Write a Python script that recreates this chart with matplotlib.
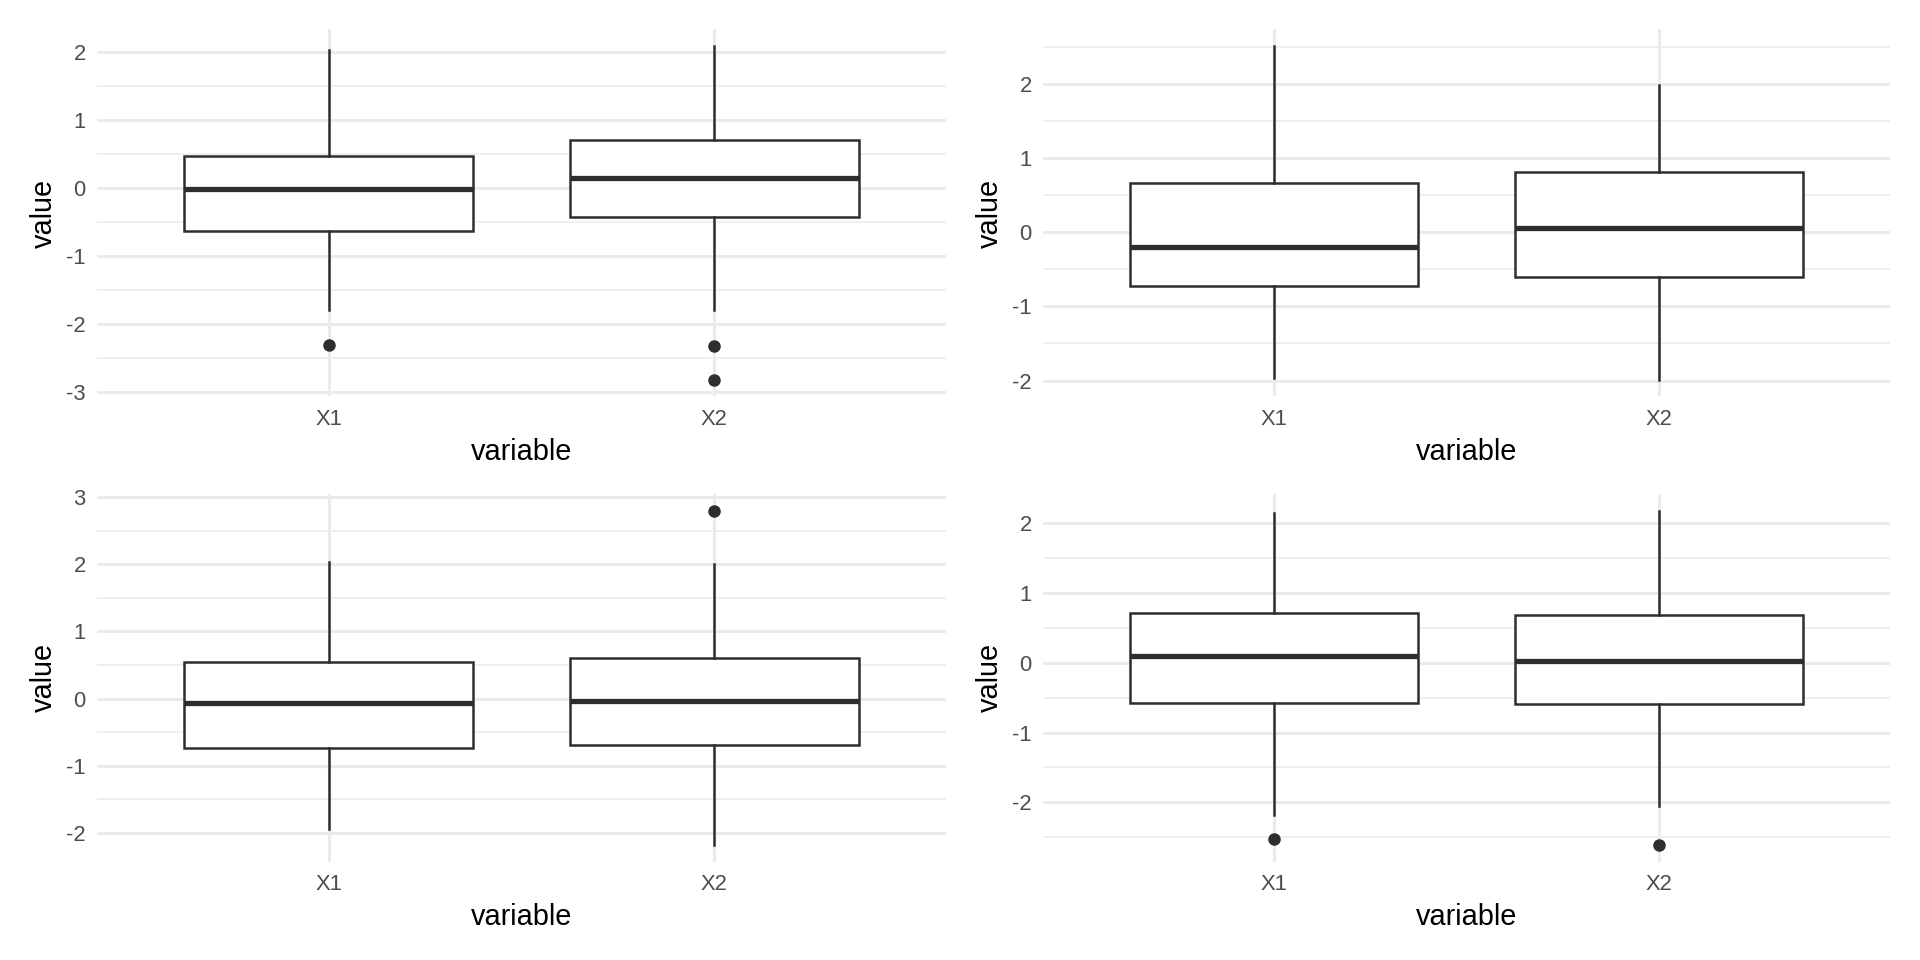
import numpy as np
import matplotlib.pyplot as plt
from matplotlib.ticker import MultipleLocator

plt.rcParams['font.family'] = ['Liberation Sans', 'DejaVu Sans']
plt.rcParams['axes.unicode_minus'] = False

# one entry per panel (top-left, top-right, bottom-left, bottom-right), then X1, X2
labels = ["X1", "X2"]
med = [[-0.02, 0.15], [-0.20, 0.06], [-0.07, -0.03], [0.10, 0.03]]
q1 = [[-0.64, -0.43], [-0.72, -0.60], [-0.73, -0.69], [-0.57, -0.59]]
q3 = [[0.47, 0.70], [0.67, 0.81], [0.54, 0.61], [0.71, 0.68]]
whislo = [[-1.79, -1.79], [-1.97, -1.99], [-1.94, -2.18], [-2.18, -2.06]]
whishi = [[2.03, 2.08], [2.51, 1.98], [2.04, 2.01], [2.15, 2.18]]
fliers = [[[-2.31], [-2.32, -2.82]],
          [[], []],
          [[], [2.80]],
          [[-2.53], [-2.61]]]

# axes rectangles in figure fractions
positions = [[0.0505, 0.587, 0.4422, 0.3823],
             [0.5432, 0.587, 0.4411, 0.3823],
             [0.0505, 0.1026, 0.4422, 0.3828],
             [0.5432, 0.1026, 0.4411, 0.3828]]

grid_col = '#EBEBEB'
box_col = '#2E2E2E'

fig = plt.figure(figsize=(19.2, 9.6), dpi=100)

for p in range(4):
    ax = fig.add_axes(positions[p])
    stats = []
    for i in range(2):
        stats.append(dict(label=labels[i], med=med[p][i], q1=q1[p][i], q3=q3[p][i],
                          whislo=whislo[p][i], whishi=whishi[p][i], fliers=fliers[p][i]))
    ax.bxp(stats, positions=[1, 2], widths=0.75, showcaps=False, patch_artist=True,
           boxprops=dict(facecolor='white', edgecolor=box_col, linewidth=1.8),
           medianprops=dict(color=box_col, linewidth=3.8, solid_capstyle='butt'),
           whiskerprops=dict(color=box_col, linewidth=1.8),
           flierprops=dict(marker='o', markerfacecolor=box_col, markeredgecolor=box_col,
                           markersize=8, linestyle='none'))

    allv = whislo[p] + whishi[p] + [v for f in fliers[p] for v in f]
    lo, hi = min(allv), max(allv)
    pad = 0.05 * (hi - lo)
    ax.set_ylim(lo - pad, hi + pad)
    ax.set_xlim(0.4, 2.6)

    ax.yaxis.set_major_locator(MultipleLocator(1))
    ax.yaxis.set_minor_locator(MultipleLocator(0.5))
    ax.set_yticklabels([f"{t:g}" for t in ax.get_yticks()])
    ax.grid(True, which='major', color=grid_col, linewidth=2.2)
    ax.grid(True, which='minor', axis='y', color=grid_col, linewidth=1.1)
    ax.set_axisbelow(True)

    for s in ax.spines.values():
        s.set_visible(False)
    ax.tick_params(which='both', length=0)
    ax.tick_params(axis='x', labelsize=15.8, labelcolor='#4D4D4D', pad=9)
    ax.tick_params(axis='y', labelsize=15.8, labelcolor='#4D4D4D', pad=8)
    ax.set_xlabel('variable', fontsize=20.8, color='black', labelpad=6)
    ax.set_ylabel('value', fontsize=20.8, color='black', labelpad=6)

fig.savefig('out.png', dpi=100, facecolor='white')
